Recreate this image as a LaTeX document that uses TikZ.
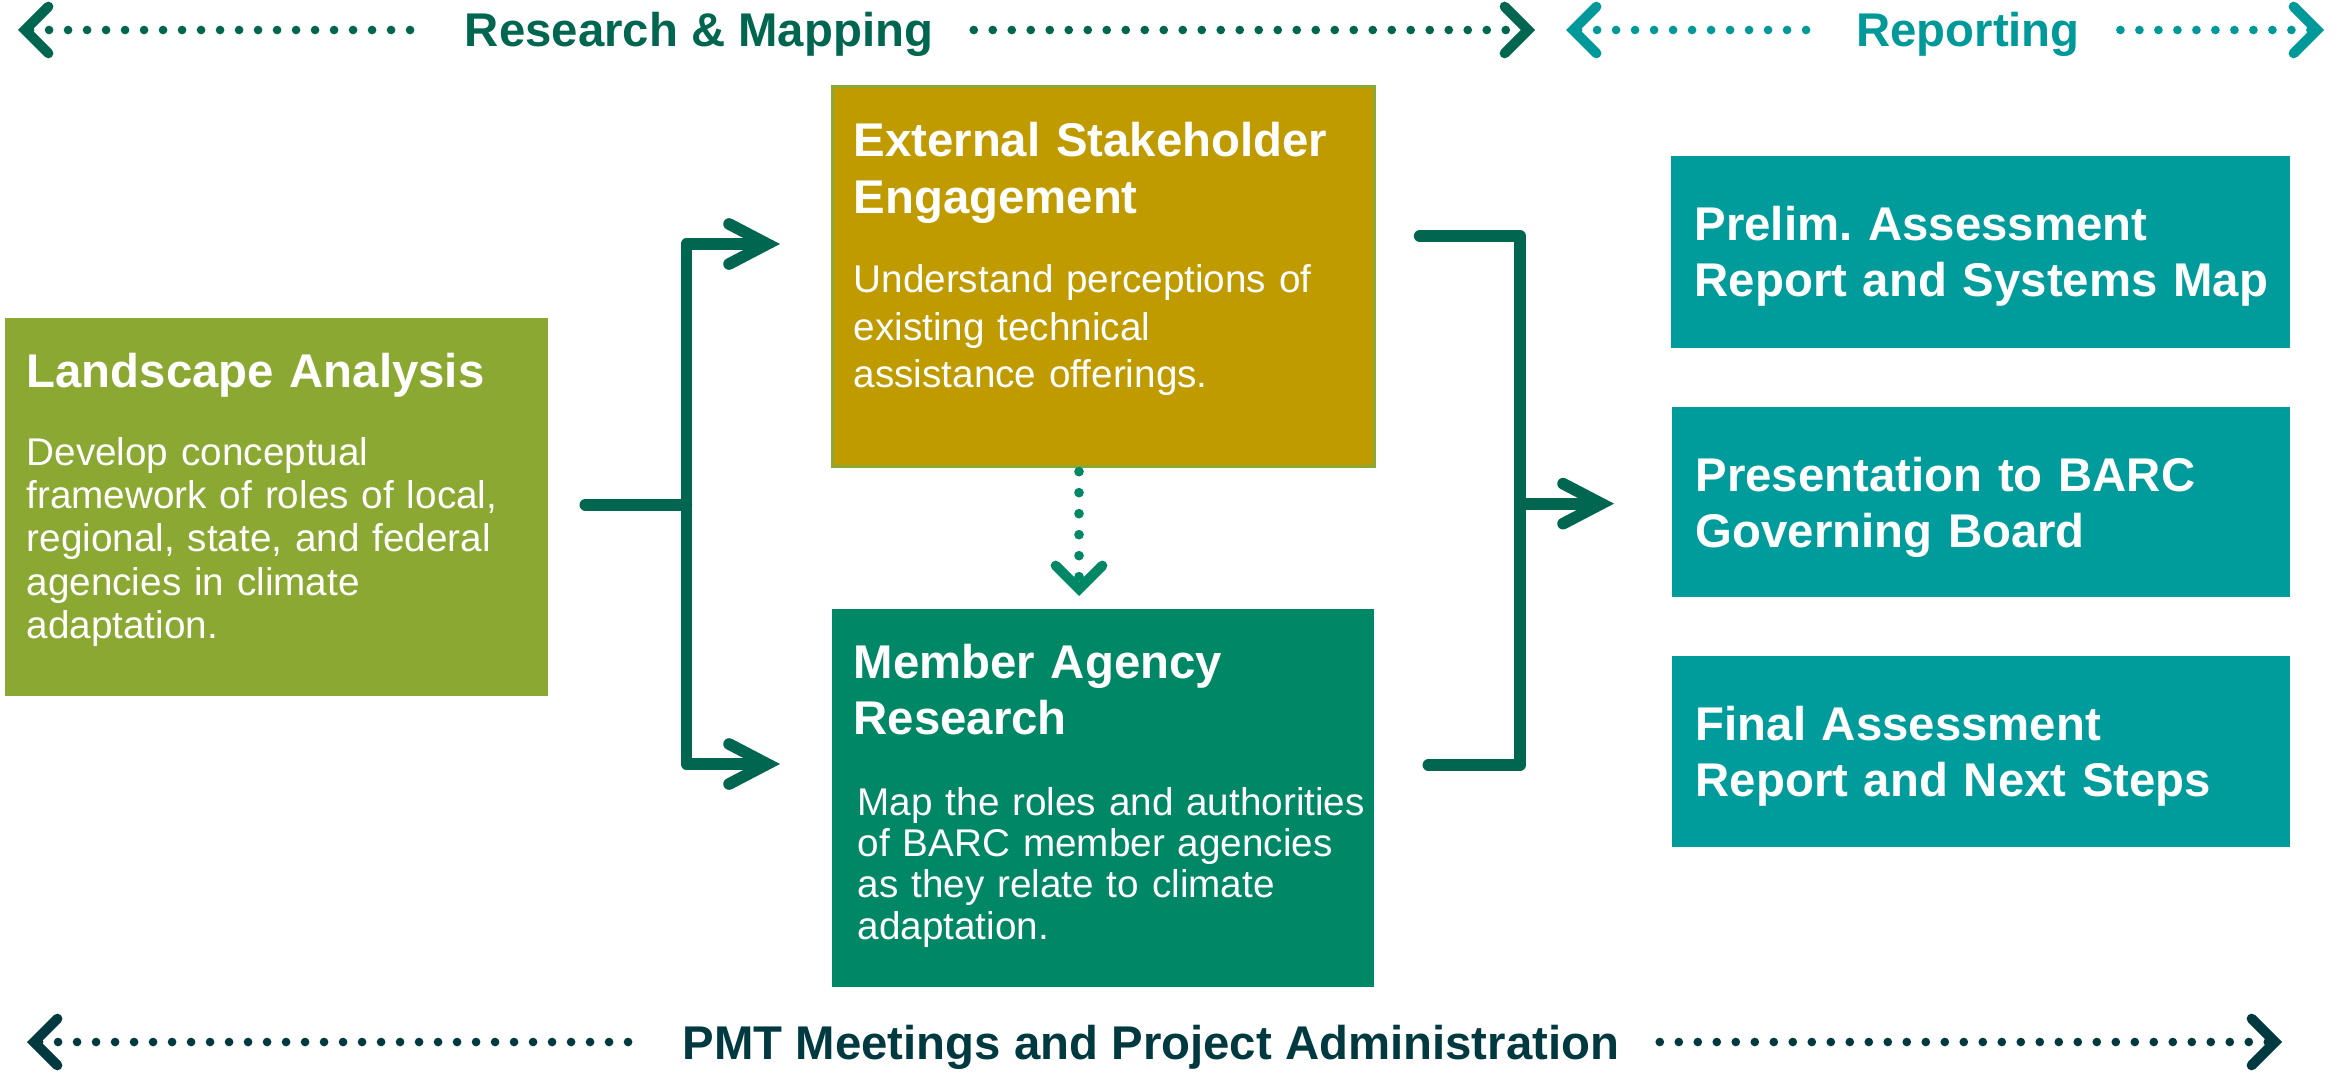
\documentclass[tikz,border=0pt]{standalone}
\usepackage{fontspec}
\setmainfont{Liberation Sans}
\frenchspacing
\usetikzlibrary{arrows.meta}
\definecolor{rmgreen}{HTML}{00664F}
\definecolor{repteal}{HTML}{009999}
\definecolor{pmtdark}{HTML}{003A40}
\definecolor{landgreen}{HTML}{8BA832}
\definecolor{extgold}{HTML}{BF9B00}
\definecolor{memgreen}{HTML}{008866}
\definecolor{outteal}{HTML}{009B9B}

\begin{document}
\begin{tikzpicture}[x=0.3pt,y=-0.3pt]
 \tikzset{chev/.tip={Straight Barb[length=7pt,width=14pt,line width=3pt,line cap=round,line join=miter]}}
 \tikzset{bigchev/.tip={Straight Barb[length=11.5pt,width=12pt,line width=3.5pt,line cap=round,line join=miter]}}
 \tikzstyle{box} = [rectangle, inner sep=0pt, anchor=north west]
 \tikzstyle{ttl} = [anchor=base west, inner sep=0pt, text width=600*0.3pt, align=left, text=white, font=\fontsize{14.2}{17}\selectfont\bfseries]
 \tikzstyle{txt} = [anchor=base west, inner sep=0pt, text width=540*0.3pt, align=left, text=white, font=\fontsize{11.6}{13}\selectfont]
 \tikzstyle{hdr} = [anchor=base, inner xsep=12pt, inner ysep=0pt, font=\fontsize{14.2}{17}\selectfont\bfseries]
 \tikzstyle{dots} = [draw, line width=2.6pt, line cap=round, dash pattern=on 0pt off 5.7pt]
 \tikzstyle{b} = [draw, rmgreen, line width=3.5pt, line cap=round, line join=round]
 \tikzstyle{l} = [b, -bigchev]
 \useasboundingbox (0,0) rectangle (2343,1073);
 % boxes
 \path
 (4,317) node[box, fill=landgreen, minimum width=543*0.3pt, minimum height=378*0.3pt] (land) {}
 (831,85) node[box, fill=extgold, draw=landgreen, line width=0.8pt, minimum width=542*0.3pt, minimum height=380*0.3pt] (ext) {}
 (831,608) node[box, fill=memgreen, minimum width=542*0.3pt, minimum height=378*0.3pt] (mem) {}
 (1670,155) node[box, fill=outteal, minimum width=619*0.3pt, minimum height=192*0.3pt] (rep1) {}
 (1671,406) node[box, fill=outteal, minimum width=618*0.3pt, minimum height=190*0.3pt] (rep2) {}
 (1671,655) node[box, fill=outteal, minimum width=618*0.3pt, minimum height=191*0.3pt] (rep3) {}
 ;
 % box texts
 \path
 (land.north west) ++(22,70) node[ttl] (landT) {Landscape Analysis}
 (land.north west) ++(22,148) node[txt] (landB) {Develop conceptual\\framework of roles of local,\\regional, state, and federal\\agencies in climate\\adaptation.}
 (ext.north west) ++(22,72) node[ttl] (extT) {External Stakeholder\\Engagement}
 (ext.north west) ++(22,207) node[txt, font=\fontsize{11.6}{14.4}\selectfont] (extB) {Understand perceptions of\\existing technical\\assistance offerings.}
 (mem.north west) ++(22,70) node[ttl] (memT) {Member Agency\\Research}
 (mem.north west) ++(26,207) node[txt, font=\fontsize{11.6}{12.4}\selectfont] (memB) {Map the roles and authorities\\of BARC member agencies\\as they relate to climate\\adaptation.}
 (rep1.north west) ++(24,85) node[ttl] (rep1T) {Prelim. Assessment\\Report and Systems Map}
 (rep2.north west) ++(24,85) node[ttl] (rep2T) {Presentation to BARC\\Governing Board}
 (rep3.north west) ++(24,85) node[ttl] (rep3T) {Final Assessment\\Report and Next Steps}
 ;
 % phase headers
 \node[hdr, text=rmgreen] (rm) at (699,47) {Research \& Mapping};
 \node[hdr, text=repteal] (rep) at (1968,47) {Reporting};
 \node[hdr, text=pmtdark] (pmt) at (1151,1059) {PMT Meetings and Project Administration};
 \coordinate (rmL) at (18,30);
 \coordinate (rmR) at (1535,30);
 \coordinate (repL) at (1566,30);
 \coordinate (repR) at (2324,30);
 \coordinate (pmtL) at (27,1042);
 \coordinate (pmtR) at (2282,1042);
 \draw[dots, rmgreen, chev-] (rmL) -- (rmL -| rm.west);
 \draw[dots, rmgreen, -chev] (rmR -| rm.east) -- (rmR);
 \draw[dots, repteal, chev-] (repL) -- (repL -| rep.west);
 \draw[dots, repteal, -chev] (repR -| rep.east) -- (repR);
 \draw[dots, pmtdark, chev-] (pmtL) -- (pmtL -| pmt.west);
 \draw[dots, pmtdark, -chev] (pmtR -| pmt.east) -- (pmtR);
 % connectors
 \path (land.east) ++(37,-2) coordinate (landout);
 \path (landout) ++(101,0) coordinate (split);
 \path (ext.north west) ++(-51,159) coordinate (extin);
 \path (mem.north west) ++(-51,156) coordinate (memin);
 \draw[b] (landout) -- (split);
 \draw[l] (split) |- (extin);
 \draw[l] (split) |- (memin);
 \path (ext.north east) ++(44,151) coordinate (extout);
 \path (mem.north east) ++(54,157) coordinate (memout);
 \path (rep2.west) ++(-57,2) coordinate (repin);
 \path (repin) ++(-94,0) coordinate (merge);
 \draw[b] (extout) -| (merge) |- (memout);
 \draw[l] (merge) -- (repin);
 \path (ext.south west) ++(248,4) coordinate (dtop);
 \path (mem.north west) ++(248,-12) coordinate (dbot);
 \draw[dots, memgreen, line width=2.9pt, dash pattern=on 0pt off 6.3pt, -chev] (dtop) -- (dbot);
\end{tikzpicture}
\end{document}
